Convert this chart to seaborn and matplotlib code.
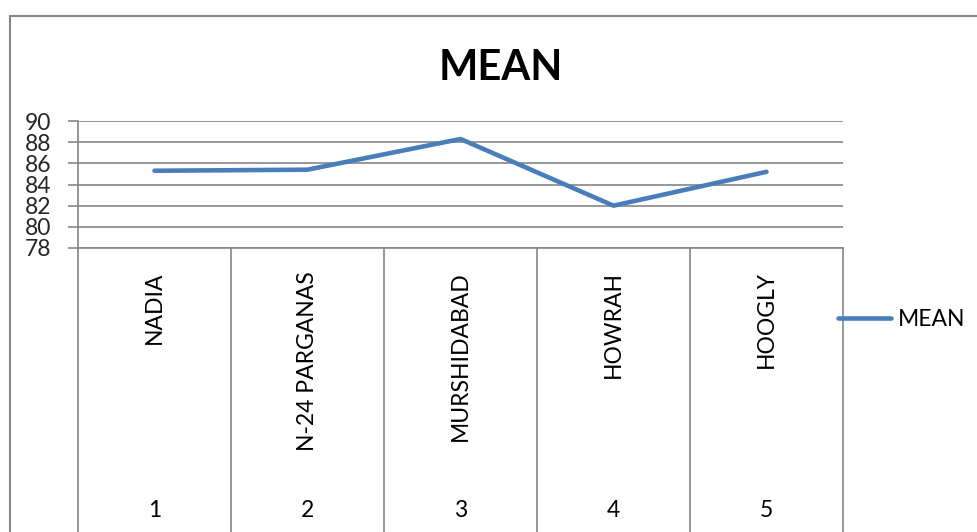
import matplotlib
matplotlib.use("Agg")
import matplotlib.pyplot as plt
import matplotlib.transforms as mtransforms
from matplotlib.patches import Rectangle
import seaborn as sns
import pandas as pd

categories = ["NADIA", "N-24 PARGANAS", "MURSHIDABAD", "HOWRAH", "HOOGLY"]
numbers = ["1", "2", "3", "4", "5"]
mean_values = [85.3, 85.4, 88.3, 82.0, 85.2]
y_ticks = [78, 80, 82, 84, 86, 88, 90]
series_name = "MEAN"

sns.set_theme(style="white")
plt.rcParams["font.family"] = ["Lato", "DejaVu Sans"]

W, H = 977, 532
fig = plt.figure(figsize=(W / 100, H / 100), dpi=100)

# plot area in pixels
L, R, T, B = 78, 843, 121, 248
ax = fig.add_axes([L / W, 1 - B / H, (R - L) / W, (B - T) / H])

grid_col = "#868686"
line_col = "#4A7EBB"

df = pd.DataFrame({"pos": list(range(len(categories))), "value": mean_values, "series": series_name})
sns.lineplot(data=df, x="pos", y="value", ax=ax, color=line_col, linewidth=3.3,
             label=series_name, solid_capstyle="round")

ax.set_xlim(-0.5, len(categories) - 0.5)
ax.set_ylim(78, 90)
ax.set_yticks(y_ticks)
ax.set_yticklabels([str(v) for v in y_ticks], fontsize=16.5)
ax.set_xticks([])
ax.set_xlabel("")
ax.set_ylabel("")
ax.tick_params(axis="y", length=7, width=1.2, color=grid_col, pad=12, left=True, direction="out")
ax.yaxis.grid(True, color=grid_col, linewidth=1.2)
ax.set_axisbelow(True)
for s in ["top", "right"]:
    ax.spines[s].set_visible(False)
for s in ["left", "bottom"]:
    ax.spines[s].set_color(grid_col)
    ax.spines[s].set_linewidth(1.2)

# category table below the axis
trans = mtransforms.blended_transform_factory(ax.transData, ax.transAxes)
ax_h = B - T
bottom_axes = (B - (H + 5)) / ax_h
for k in range(len(categories) + 1):
    ax.plot([k - 0.5, k - 0.5], [0, bottom_axes], transform=trans, color=grid_col,
            linewidth=1.2, clip_on=False)
label_top = (B - 271) / ax_h
num_y = (B - 510) / ax_h
for i, (c, n) in enumerate(zip(categories, numbers)):
    ax.text(i, label_top, c, rotation=90, ha="center", va="top", fontsize=16.5,
            transform=trans, color="black")
    ax.text(i, num_y, n, ha="center", va="center", fontsize=16.5, transform=trans, color="black")

# title
fig.text(501 / W, 1 - 68 / H, "MEAN", ha="center", va="center",
         fontsize=30, fontweight="bold", color="black")

# legend
leg = ax.legend(loc="center left", bbox_to_anchor=((838 - L) / (R - L), (B - 320) / ax_h),
                frameon=False, fontsize=16.5, handlelength=2.3, handletextpad=0.3,
                borderaxespad=0, borderpad=0)
for t in leg.get_texts():
    t.set_color("black")

# outer chart border
fig.patches.append(Rectangle((10 / W, -0.1), 1.2, 1 - 16 / H + 0.1, transform=fig.transFigure,
                             fill=False, edgecolor=grid_col, linewidth=1.5))

fig.savefig("out.png", dpi=100, facecolor="white")
